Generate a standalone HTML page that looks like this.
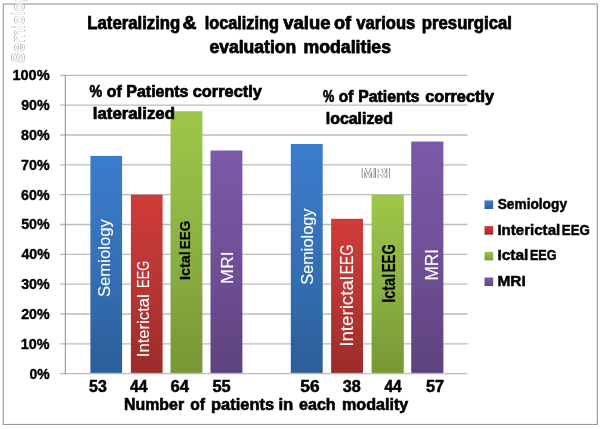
<!DOCTYPE html>
<html><head><meta charset="utf-8">
<style>
html,body{margin:0;padding:0;background:#fff;}
svg{display:block;filter:blur(0.45px);}
text{font-family:"Liberation Sans",sans-serif;}
.b{font-weight:bold;fill:#000;stroke:#000;stroke-width:0.6;}
.t{stroke-width:0.75;}
.c{stroke-width:0.7;}
.y{stroke-width:0.4;}
.n{stroke-width:0.5;}
.l{stroke-width:0.5;}
.w{fill:#fff;stroke:#fff;stroke-width:0.1;}
.k{font-weight:bold;fill:#000;stroke:#000;stroke-width:0.2;}
</style></head>
<body>
<svg xmlns="http://www.w3.org/2000/svg" width="600" height="429" viewBox="0 0 600 429">
<defs>
<linearGradient id="gb" x1="0" y1="0" x2="0" y2="1"><stop offset="0" stop-color="#3b7dcd"/><stop offset="0.5" stop-color="#3570b6"/><stop offset="1" stop-color="#2b5e9a"/></linearGradient>
<linearGradient id="gr" x1="0" y1="0" x2="0" y2="1"><stop offset="0" stop-color="#cf3b39"/><stop offset="0.5" stop-color="#b83634"/><stop offset="1" stop-color="#9c2c2a"/></linearGradient>
<linearGradient id="gg" x1="0" y1="0" x2="0" y2="1"><stop offset="0" stop-color="#9dc748"/><stop offset="0.5" stop-color="#8cb242"/><stop offset="1" stop-color="#779735"/></linearGradient>
<linearGradient id="gp" x1="0" y1="0" x2="0" y2="1"><stop offset="0" stop-color="#7c59a9"/><stop offset="0.5" stop-color="#6f5096"/><stop offset="1" stop-color="#5e427e"/></linearGradient>
<filter id="ct" x="-20%" y="-20%" width="140%" height="140%">
<feOffset in="SourceAlpha" dx="-0.55" dy="0" result="l"/><feFlood flood-color="#7d88a6"/><feComposite in2="l" operator="in" result="L"/>
<feOffset in="SourceAlpha" dx="0.55" dy="0" result="r"/><feFlood flood-color="#a88c7e"/><feComposite in2="r" operator="in" result="R"/>
<feMerge><feMergeNode in="L"/><feMergeNode in="R"/><feMergeNode in="SourceGraphic"/></feMerge>
</filter>
</defs>
<rect x="0" y="0" width="600" height="429" fill="#fff"/>
<!-- frame -->
<rect x="3.3" y="4.05" width="594" height="420.4" fill="none" stroke="#969696" stroke-width="1.1"/>
<!-- gridlines -->
<path stroke="#bdbdbd" stroke-width="1.3" fill="none" d="M60 75.3H467.5M60 105.14H467.5M60 134.98H467.5M60 164.82H467.5M60 194.66H467.5M60 224.5H467.5M60 254.34H467.5M60 284.18H467.5M60 314.02H467.5M60 343.86H467.5M60 373.7H467.5"/>
<path stroke="#8e8e8e" stroke-width="1" fill="none" d="M65.3 75V374.3"/>
<!-- bars -->
<g>
<rect x="90.4" y="155.9" width="31.7" height="217" fill="url(#gb)"/>
<rect x="130.9" y="194.7" width="31.7" height="178.2" fill="url(#gr)"/>
<rect x="170.5" y="111.2" width="31.9" height="261.7" fill="url(#gg)"/>
<rect x="210.5" y="150.5" width="31.9" height="222.4" fill="url(#gp)"/>
<rect x="290.8" y="144" width="31.9" height="228.9" fill="url(#gb)"/>
<rect x="331.1" y="218.8" width="31.9" height="154.1" fill="url(#gr)"/>
<rect x="371.6" y="194.7" width="32.2" height="178.2" fill="url(#gg)"/>
<rect x="411.2" y="141.5" width="32.2" height="231.4" fill="url(#gp)"/>
</g>
<!-- legend markers -->
<rect x="484.5" y="200.4" width="8.7" height="8.6" fill="url(#gb)"/>
<rect x="484.5" y="226.1" width="8.7" height="8.6" fill="url(#gr)"/>
<rect x="484.5" y="251.8" width="8.7" height="8.6" fill="url(#gg)"/>
<rect x="484.5" y="277.5" width="8.7" height="8.6" fill="url(#gp)"/>

<!-- title -->
<g class="b t">
<text y="28.90" font-size="18"><tspan x="87.33" textLength="92.96" lengthAdjust="spacingAndGlyphs">Lateralizing</tspan> <tspan x="182.40" textLength="13.99" lengthAdjust="spacingAndGlyphs">&amp;</tspan> <tspan x="204.79" textLength="74.11" lengthAdjust="spacingAndGlyphs">localizing</tspan> <tspan x="283.30" textLength="47.16" lengthAdjust="spacingAndGlyphs">value</tspan> <tspan x="333.91" textLength="17.16" lengthAdjust="spacingAndGlyphs">of</tspan> <tspan x="356.19" textLength="59.13" lengthAdjust="spacingAndGlyphs">various</tspan> <tspan x="421.81" textLength="90.19" lengthAdjust="spacingAndGlyphs">presurgical</tspan></text>
<text y="53.00" font-size="18"><tspan x="209.41" textLength="86.84" lengthAdjust="spacingAndGlyphs">evaluation</tspan> <tspan x="303.52" textLength="87.45" lengthAdjust="spacingAndGlyphs">modalities</tspan></text>
</g>
<!-- group captions -->
<g class="b c">
<text y="96.60" font-size="16.5"><tspan x="89.61" textLength="12.66" lengthAdjust="spacingAndGlyphs">%</tspan> <tspan x="106.74" textLength="14.94" lengthAdjust="spacingAndGlyphs">of</tspan> <tspan x="126.30" textLength="62.19" lengthAdjust="spacingAndGlyphs">Patients</tspan> <tspan x="192.75" textLength="69.12" lengthAdjust="spacingAndGlyphs">correctly</tspan></text>
<text y="119.00" font-size="16.5"><tspan x="92.88" textLength="82.03" lengthAdjust="spacingAndGlyphs">lateralized</tspan></text>
<text y="102.30" font-size="16"><tspan x="323.04" textLength="11.25" lengthAdjust="spacingAndGlyphs">%</tspan> <tspan x="338.79" textLength="14.46" lengthAdjust="spacingAndGlyphs">of</tspan> <tspan x="358.34" textLength="61.19" lengthAdjust="spacingAndGlyphs">Patients</tspan> <tspan x="425.21" textLength="68.76" lengthAdjust="spacingAndGlyphs">correctly</tspan></text>
<text y="124.20" font-size="16"><tspan x="325.83" textLength="67.01" lengthAdjust="spacingAndGlyphs">localized</tspan></text>
</g>
<!-- y axis labels -->
<g class="b y">
<text y="80.20" font-size="15.5"><tspan x="12.41" textLength="37.25" lengthAdjust="spacingAndGlyphs">100%</tspan></text>
<text y="110.04" font-size="15.5"><tspan x="21.16" textLength="28.44" lengthAdjust="spacingAndGlyphs">90%</tspan></text>
<text y="139.88" font-size="15.5"><tspan x="21.04" textLength="28.57" lengthAdjust="spacingAndGlyphs">80%</tspan></text>
<text y="169.72" font-size="15.5"><tspan x="21.05" textLength="28.49" lengthAdjust="spacingAndGlyphs">70%</tspan></text>
<text y="199.56" font-size="15.5"><tspan x="21.09" textLength="28.47" lengthAdjust="spacingAndGlyphs">60%</tspan></text>
<text y="229.40" font-size="15.5"><tspan x="21.16" textLength="28.46" lengthAdjust="spacingAndGlyphs">50%</tspan></text>
<text y="259.24" font-size="15.5"><tspan x="21.38" textLength="28.37" lengthAdjust="spacingAndGlyphs">40%</tspan></text>
<text y="289.08" font-size="15.5"><tspan x="21.13" textLength="28.52" lengthAdjust="spacingAndGlyphs">30%</tspan></text>
<text y="318.92" font-size="15.5"><tspan x="21.14" textLength="28.52" lengthAdjust="spacingAndGlyphs">20%</tspan></text>
<text y="348.76" font-size="15.5"><tspan x="20.83" textLength="28.77" lengthAdjust="spacingAndGlyphs">10%</tspan></text>
<text y="378.60" font-size="15.5"><tspan x="29.49" textLength="20.14" lengthAdjust="spacingAndGlyphs">0%</tspan></text>
</g>
<!-- x axis counts -->
<g class="b n">
<text y="391.60" font-size="16"><tspan x="89.04" textLength="17.72" lengthAdjust="spacingAndGlyphs">53</tspan> <tspan x="129.97" textLength="17.50" lengthAdjust="spacingAndGlyphs">44</tspan> <tspan x="170.42" textLength="18.52" lengthAdjust="spacingAndGlyphs">64</tspan> <tspan x="212.45" textLength="18.26" lengthAdjust="spacingAndGlyphs">55</tspan> <tspan x="300.38" textLength="19.26" lengthAdjust="spacingAndGlyphs">56</tspan> <tspan x="342.74" textLength="18.01" lengthAdjust="spacingAndGlyphs">38</tspan> <tspan x="384.42" textLength="17.31" lengthAdjust="spacingAndGlyphs">44</tspan> <tspan x="425.99" textLength="18.14" lengthAdjust="spacingAndGlyphs">57</tspan></text>
</g>
<!-- x axis title -->
<g class="b">
<text y="409.60" font-size="16"><tspan x="124.10" textLength="59.96" lengthAdjust="spacingAndGlyphs">Number</tspan> <tspan x="190.26" textLength="14.73" lengthAdjust="spacingAndGlyphs">of</tspan> <tspan x="211.10" textLength="62.91" lengthAdjust="spacingAndGlyphs">patients</tspan> <tspan x="278.41" textLength="14.87" lengthAdjust="spacingAndGlyphs">in</tspan> <tspan x="299.03" textLength="36.63" lengthAdjust="spacingAndGlyphs">each</tspan> <tspan x="342.07" textLength="66.15" lengthAdjust="spacingAndGlyphs">modality</tspan></text>
</g>
<!-- legend labels -->
<g class="b l">
<text y="209.10" font-size="15"><tspan x="497.66" textLength="69.36" lengthAdjust="spacingAndGlyphs">Semiology</tspan></text>
<text y="234.90" font-size="15"><tspan x="497.40" textLength="62.82" lengthAdjust="spacingAndGlyphs">Interictal</tspan> <tspan x="561.85" textLength="27.97" lengthAdjust="spacingAndGlyphs">EEG</tspan></text>
<text y="260.20" font-size="15"><tspan x="497.45" textLength="30.95" lengthAdjust="spacingAndGlyphs">Ictal</tspan> <tspan x="529.90" textLength="26.64" lengthAdjust="spacingAndGlyphs">EEG</tspan></text>
<text y="286.00" font-size="15"><tspan x="497.46" textLength="28.22" lengthAdjust="spacingAndGlyphs">MRI</tspan></text>
</g>
<!-- bar labels -->
<g class="w">
<text transform="translate(109.70 0) rotate(-90)" font-size="17"><tspan x="-297.04" textLength="77.78" lengthAdjust="spacingAndGlyphs">Semiology</tspan></text>
<text transform="translate(149.30 0) rotate(-90)" font-size="16"><tspan x="-357.20" textLength="62.94" lengthAdjust="spacingAndGlyphs">Interictal</tspan> <tspan x="-287.90" textLength="27.16" lengthAdjust="spacingAndGlyphs">EEG</tspan></text>
<text transform="translate(233.00 0) rotate(-90)" font-size="16.3"><tspan x="-283.91" textLength="32.66" lengthAdjust="spacingAndGlyphs">MRI</tspan></text>
<text transform="translate(313.30 0) rotate(-90)" font-size="17"><tspan x="-284.85" textLength="76.34" lengthAdjust="spacingAndGlyphs">Semiology</tspan></text>
<text transform="translate(352.80 0) rotate(-90)" font-size="17.5"><tspan x="-346.74" textLength="70.70" lengthAdjust="spacingAndGlyphs">Interictal</tspan> <tspan x="-274.27" textLength="29.57" lengthAdjust="spacingAndGlyphs">EEG</tspan></text>
<text transform="translate(438.20 0) rotate(-90)" font-size="17.5"><tspan x="-280.54" textLength="31.62" lengthAdjust="spacingAndGlyphs">MRI</tspan></text>
</g>
<g class="k">
<text transform="translate(189.50 0) rotate(-90)" font-size="15.5"><tspan x="-280.10" textLength="28.90" lengthAdjust="spacingAndGlyphs">Ictal</tspan> <tspan x="-249.24" textLength="28.50" lengthAdjust="spacingAndGlyphs">EEG</tspan></text>
<text transform="translate(395.00 0) rotate(-90)" font-size="17.5"><tspan x="-302.81" textLength="28.99" lengthAdjust="spacingAndGlyphs">Ictal</tspan> <tspan x="-272.25" textLength="28.06" lengthAdjust="spacingAndGlyphs">EEG</tspan></text>
</g>
<!-- ghost labels (white text with colour fringes) -->
<g fill="#fff" filter="url(#ct)">
<text x="361.5" y="178.3" font-size="14.5" textLength="29" lengthAdjust="spacingAndGlyphs">MRI</text>
</g>
<g fill="#fff" filter="url(#ct)" opacity="0.6">
<text transform="translate(24.2 63.5) rotate(-90)" font-size="17" textLength="79" lengthAdjust="spacingAndGlyphs">Semiology</text>
</g>

</svg>
</body></html>
